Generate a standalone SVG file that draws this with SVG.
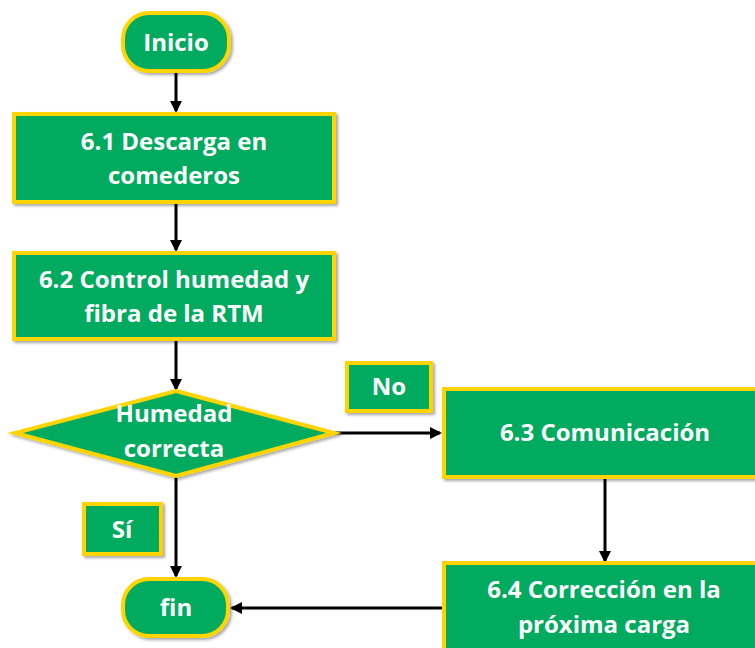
<svg xmlns="http://www.w3.org/2000/svg" width="755" height="648" viewBox="0 0 755 648">
<defs>
<marker id="ah" markerWidth="12" markerHeight="12" refX="10" refY="6" orient="auto" markerUnits="userSpaceOnUse" viewBox="0 0 12 12">
<path d="M0,0 L12,6 L0,12 Z" fill="#000"/>
</marker>
<filter id="sh" x="-10%" y="-10%" width="130%" height="130%">
<feDropShadow dx="2" dy="2" stdDeviation="1.5" flood-color="#000" flood-opacity="0.35"/>
</filter>
<style>
.n{fill:#00AB61;stroke:#FFD400;stroke-width:4;filter:url(#sh)}
.t{font-family:"Open Sans",Lato,sans-serif;font-weight:bold;font-size:24px;fill:#fff;text-anchor:middle}
.c{stroke:#000;stroke-width:3;fill:none;marker-end:url(#ah)}
</style>
</defs>
<g id="connectors">
<line class="c" x1="176" y1="72" x2="176" y2="111"/>
<line class="c" x1="176" y1="204" x2="176" y2="250"/>
<line class="c" x1="176" y1="341" x2="176" y2="389"/>
<line class="c" x1="335" y1="433" x2="440" y2="433"/>
<line class="c" x1="176" y1="476" x2="176" y2="576"/>
<line class="c" x1="605" y1="479" x2="605" y2="561"/>
<line class="c" x1="443" y1="608" x2="232" y2="608"/>
</g>
<g id="inicio">
<rect class="n" x="123" y="13" width="106" height="58" rx="26"/>
<text class="t" x="176" y="51">Inicio</text>
</g>
<g id="n61">
<rect class="n" x="14" y="114" width="320" height="88"/>
<text class="t" x="174" y="150">6.1 Descarga en</text>
<text class="t" x="174" y="184">comederos</text>
</g>
<g id="n62">
<rect class="n" x="14" y="253" width="320" height="86"/>
<text class="t" x="174" y="288">6.2 Control humedad y</text>
<text class="t" x="174" y="322">fibra de la RTM</text>
</g>
<g id="decision">
<polygon class="n" points="176,391 334,433 176,476 15,433"/>
<text class="t" x="174" y="422">Humedad</text>
<text class="t" x="174" y="457">correcta</text>
</g>
<g id="lbl-no">
<rect class="n" x="347" y="363" width="84" height="48"/>
<text class="t" x="389" y="395">No</text>
</g>
<g id="n63">
<rect class="n" x="444" y="389" width="320" height="88"/>
<text class="t" x="605" y="441">6.3 Comunicación</text>
</g>
<g id="lbl-si">
<rect class="n" x="84" y="504" width="77" height="50"/>
<text class="t" x="122" y="538">Sí</text>
</g>
<g id="n64">
<rect class="n" x="444" y="563" width="320" height="100"/>
<text class="t" x="604" y="598">6.4 Corrección en la</text>
<text class="t" x="604" y="633">próxima carga</text>
</g>
<g id="fin">
<rect class="n" x="123" y="579" width="105" height="57" rx="26"/>
<text class="t" x="176" y="616">fin</text>
</g>
</svg>
